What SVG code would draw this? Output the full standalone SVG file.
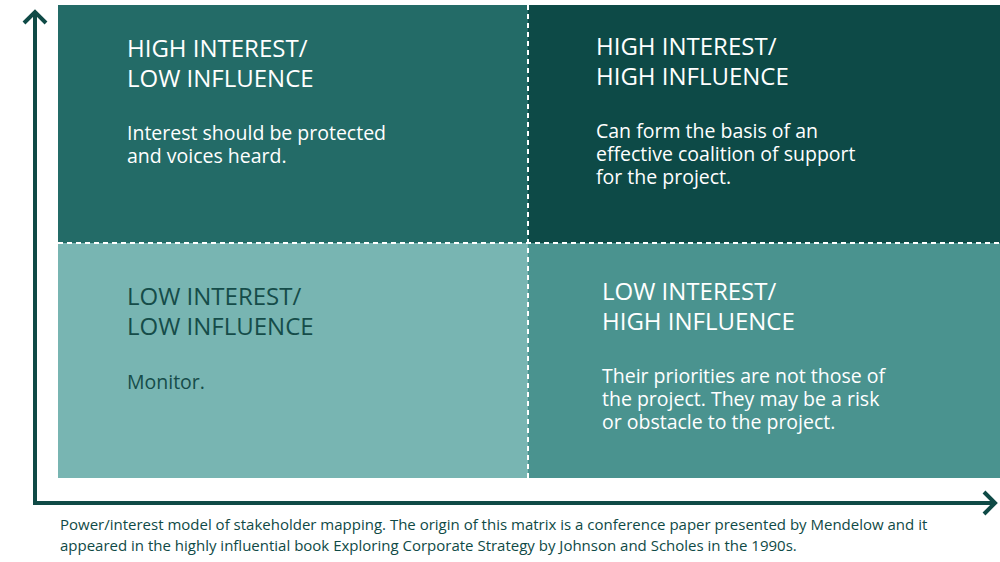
<svg xmlns="http://www.w3.org/2000/svg" width="1000" height="562" viewBox="0 0 1000 562">
<style>
.t{font-family:"Open Sans","Liberation Sans",sans-serif;font-size:24px}
.b{font-family:"Open Sans","Liberation Sans",sans-serif;font-size:19.5px}
.w{fill:#ffffff}
.d{fill:#154c49}
.ax{stroke:#0f4a46;stroke-width:4;fill:none}
.dash{stroke:#ffffff;stroke-width:2;stroke-dasharray:5 4;fill:none}
.cap{font-family:"Open Sans","Liberation Sans",sans-serif;font-size:15px;fill:#0f4a46}
</style>
<rect width="1000" height="562" fill="#ffffff"/>
<g id="q-hi-lo">
<rect x="58" y="5" width="470" height="238" fill="#236b67"/>
<text class="t w" x="127" y="57">HIGH INTEREST/</text>
<text class="t w" x="127" y="87">LOW INFLUENCE</text>
<text class="b w" x="127" y="140">Interest should be protected</text>
<text class="b w" x="127" y="163">and voices heard.</text>
</g>
<g id="q-hi-hi">
<rect x="528" y="5" width="472" height="238" fill="#0d4a47"/>
<text class="t w" x="596" y="55">HIGH INTEREST/</text>
<text class="t w" x="596" y="85">HIGH INFLUENCE</text>
<text class="b w" x="596" y="138">Can form the basis of an</text>
<text class="b w" x="596" y="161">effective coalition of support</text>
<text class="b w" x="596" y="184">for the project.</text>
</g>
<g id="q-lo-lo">
<rect x="58" y="243" width="470" height="235" fill="#78b5b2"/>
<text class="t d" x="127" y="305">LOW INTEREST/</text>
<text class="t d" x="127" y="335">LOW INFLUENCE</text>
<text class="b d" x="127" y="389">Monitor.</text>
</g>
<g id="q-lo-hi">
<rect x="528" y="243" width="472" height="235" fill="#4a938f"/>
<text class="t w" x="602" y="300">LOW INTEREST/</text>
<text class="t w" x="602" y="330">HIGH INFLUENCE</text>
<text class="b w" x="602" y="383">Their priorities are not those of</text>
<text class="b w" x="602" y="406">the project. They may be a risk</text>
<text class="b w" x="602" y="429">or obstacle to the project.</text>
</g>
<g id="connectors">
<line class="dash" x1="528" y1="5" x2="528" y2="478"/>
<line class="dash" x1="58" y1="243" x2="1000" y2="243"/>
<polyline class="ax" points="35,12 35,503 995,503"/>
<polyline class="ax" points="24,23 35,12 46,23"/>
<polyline class="ax" points="984,492 995,503 984,514"/>
</g>
<text class="cap" x="60" y="530">Power/interest model of stakeholder mapping. The origin of this matrix is a conference paper presented by Mendelow and it</text>
<text class="cap" x="60" y="551">appeared in the highly influential book Exploring Corporate Strategy by Johnson and Scholes in the 1990s.</text>
</svg>
